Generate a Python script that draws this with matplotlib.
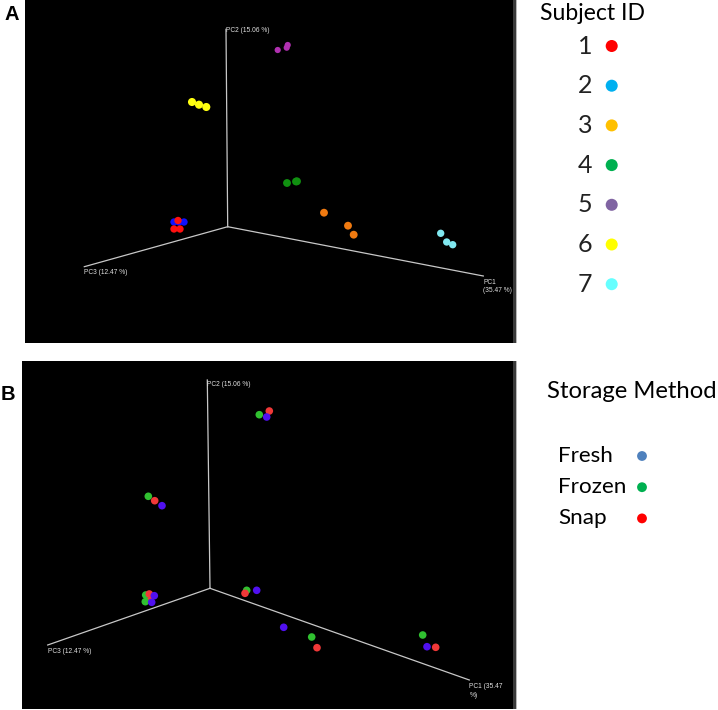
import matplotlib
matplotlib.use("Agg")
import matplotlib.pyplot as plt
from matplotlib.patches import Rectangle

# ---------------- data (screen coordinates) ----------------
subject_ids = ["1", "2", "3", "4", "5", "6", "7"]
legend_a_colors = ["#ff0000", "#00b0f0", "#ffc000", "#00b050", "#8064a2", "#ffff00", "#66ffff"]
plot_a_colors = ["#ff1010", "#1010ff", "#f07a10", "#109010", "#b030b0", "#ffff10", "#80e8f0"]

a_subject = [1, 1, 1, 0, 0, 0, 2, 2, 2, 3, 3, 3, 4, 4, 4, 5, 5, 5, 6, 6, 6]
a_x = [174, 184, 179, 178, 174, 180, 324, 348, 353.7, 287, 297, 296, 277.7, 286.7, 287.7,
       192, 199, 206.3, 440.7, 446.7, 452.7]
a_y = [222, 222, 222, 220.5, 229, 229, 212.7, 225.7, 234.7, 183, 181.3, 181.5, 50, 47.7, 45,
       102, 104.7, 107, 233.3, 242, 244.7]

methods = ["Fresh", "Frozen", "Snap"]
legend_b_colors = ["#4f81bd", "#00b050", "#ff0000"]
plot_b_colors = ["#5010f0", "#30c030", "#f03838"]

b_method = [1, 2, 0,
            1, 2, 0,
            2, 1, 2, 0, 1, 0,
            1, 0, 2,
            0, 1, 2,
            1, 0, 2]
b_x = [259.3, 269.3, 266.7,
       148.3, 154.7, 162,
       149, 145.7, 149.3, 154.3, 145.3, 151.7,
       246.7, 256.7, 245,
       283.7, 311.7, 317,
       422.7, 427, 435.7]
b_y = [414.7, 411, 417,
       496.3, 500.7, 505.7,
       598, 595, 594, 595.7, 601.7, 602.3,
       590.3, 590.3, 593.3,
       627.3, 637, 647.7,
       635, 646.7, 647.3]

# axis frames: origin and ends of PC1, PC2, PC3
a_origin = (227.7, 226.7)
a_pc_ends = {"PC1": (483.3, 276), "PC2": (226, 29.3), "PC3": (84.3, 266.7)}
b_origin = (210, 588.3)
b_pc_ends = {"PC1": (469.3, 680), "PC2": (207.3, 380), "PC3": (47.7, 645)}
a_pc_labels = {"PC1": "PC1\n(35.47 %)", "PC2": "PC2 (15.06 %)", "PC3": "PC3 (12.47 %)"}
b_pc_labels = {"PC1": "PC1 (35.47\n%)", "PC2": "PC2 (15.06 %)", "PC3": "PC3 (12.47 %)"}

# ---------------- figure ----------------
W, H = 718, 710
fig = plt.figure(figsize=(W / 100, H / 100), dpi=100)
fig.patch.set_facecolor("white")


def panel(x0, y0, x1, y1):
    ax = fig.add_axes([x0 / W, 1 - y1 / H, (x1 - x0) / W, (y1 - y0) / H])
    ax.set_facecolor("black")
    ax.set_xlim(x0, x1)
    ax.set_ylim(y1, y0)
    ax.set_xticks([])
    ax.set_yticks([])
    for s in ax.spines.values():
        s.set_visible(False)
    ax.add_patch(Rectangle((1 - 4.5 / (x1 - x0), 0), 4.5 / (x1 - x0), 1, transform=ax.transAxes,
                           facecolor="#3a3a3a", edgecolor="none", zorder=1))
    ax.add_patch(Rectangle((1 - 1 / (x1 - x0), 0), 1 / (x1 - x0), 1, transform=ax.transAxes,
                           facecolor="#b8b8b8", edgecolor="none", zorder=1))
    return ax


def draw_axes3d(ax, origin, ends, labels, offsets):
    for k, (ex, ey) in ends.items():
        ax.plot([origin[0], ex], [origin[1], ey], color="#c8c8c8", lw=0.9, zorder=2)
        dx, dy = offsets[k]
        ax.text(ex + dx, ey + dy, labels[k], color="#e0e0e0", fontsize=4.8,
                family="Liberation Sans", ha="left", va="top", linespacing=1.3, zorder=3)


axA = panel(25, 0, 517, 343)
draw_axes3d(axA, a_origin, a_pc_ends, a_pc_labels,
            {"PC1": (0, 3), "PC2": (0, -2), "PC3": (0, 2)})
sizes_a = [28, 28, 32, 32, 20, 34, 28]
for i, (x, y, s) in enumerate(zip(a_x, a_y, a_subject)):
    axA.scatter([x], [y], s=sizes_a[s], color=plot_a_colors[s], edgecolors="none", zorder=4)

axB = panel(22, 361, 517, 709)
draw_axes3d(axB, b_origin, b_pc_ends, b_pc_labels,
            {"PC1": (0, 3), "PC2": (0, 1), "PC3": (0, 3)})
for x, y, m in zip(b_x, b_y, b_method):
    axB.scatter([x], [y], s=30, color=plot_b_colors[m], edgecolors="none", zorder=4)

# ---------------- overlay for labels / legends ----------------
ov = fig.add_axes([0, 0, 1, 1], facecolor="none")
ov.set_xlim(0, W)
ov.set_ylim(H, 0)
ov.axis("off")

ov.text(11.5, 14, "A", fontsize=14.5, fontweight="bold", family="Liberation Sans",
        ha="center", va="center")
ov.text(7.5, 394, "B", fontsize=14.5, fontweight="bold", family="Liberation Sans",
        ha="center", va="center")

lf = "Lato"
ov.text(540, 14, "Subject ID", fontsize=16.6, family=lf, ha="left", va="center")
for i, (sid, c) in enumerate(zip(subject_ids, legend_a_colors)):
    y = 46 + i * 39.7
    ov.text(592, y, sid, fontsize=18, family=lf, ha="right", va="center", color="#222222")
    ov.scatter([611.7], [y], s=75, color=c, edgecolors="none")

ov.text(546.7, 392, "Storage Method", fontsize=17.2, family=lf, ha="left", va="center")
for i, (m, c) in enumerate(zip(methods, legend_b_colors)):
    y = 456 + i * 31.2
    ov.text(558, y, m, fontsize=16.2, family=lf, ha="left", va="center")
    ov.scatter([642], [y], s=50, color=c, edgecolors="none")

fig.savefig("out.png", dpi=100, facecolor="white")
